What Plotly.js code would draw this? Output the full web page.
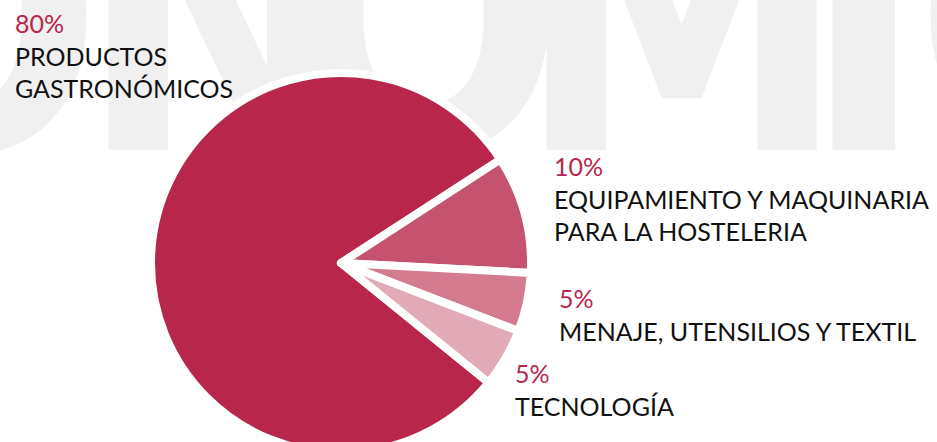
<!DOCTYPE html>
<html>
<head>
<meta charset="utf-8">
<script src="https://cdn.plot.ly/plotly-3.0.1.min.js"></script>
<style>
  html, body { margin: 0; padding: 0; background: #ffffff; overflow: hidden; width: 937px; height: 442px; }
  #bg { position: absolute; left: 0; top: 0; z-index: 0; }
  #chart { position: absolute; left: 0; top: 0; width: 937px; height: 460px; z-index: 1; }
</style>
</head>
<body>
<svg id="bg" width="937" height="442">
  <text id="wm" y="150" fill="#f0f0f0"
        style="font-family: 'Liberation Sans Narrow', 'DejaVu Sans Condensed', sans-serif; font-weight: 700; font-size: 370px;"></text>
</svg>
<div id="chart"></div>
<script>
// ---- data ----
const categories = ["PRODUCTOS<br>GASTRONÓMICOS", "EQUIPAMIENTO Y MAQUINARIA<br>PARA LA HOSTELERIA", "MENAJE, UTENSILIOS Y TEXTIL", "TECNOLOGÍA"];
const shares = [80, 10, 5, 5];
const sliceColors = ["#b8264b", "#c5536f", "#d57b8f", "#e2a9b6"];

// ---- decorative watermark (real text) ----
const watermarkText = "GASTRONÓMICOS";
const wmX = [-1300, -1100, -900, -700, -420, -180, 78, 282, 516, 802, 914, 1100, 1300];
const wm = document.getElementById('wm');
wm.setAttribute('x', wmX.join(' '));
wm.textContent = watermarkText;

// ---- label placement (paper coords of a 937x460 canvas) ----
const H = 460, W = 937;
const labelPos = [
  {x: 13, y: 6},
  {x: 552, y: 149},
  {x: 557, y: 281},
  {x: 513, y: 356}
];

const annotations = categories.map((c, i) => ({
  xref: 'paper', yref: 'paper',
  x: labelPos[i].x / W, y: 1 - labelPos[i].y / H,
  xanchor: 'left', yanchor: 'top', align: 'left',
  showarrow: false,
  text: '<span style="color:#b8264b">' + shares[i] + '%</span><br>' + c,
  font: {family: 'Lato, "Open Sans", sans-serif', size: 25, color: '#111111'}
}));

const trace = {
  type: 'pie',
  labels: categories,
  values: shares,
  sort: false,
  direction: 'clockwise',
  rotation: 129,
  textinfo: 'none',
  hoverinfo: 'none',
  marker: {colors: sliceColors, line: {color: '#ffffff', width: 8}},
  domain: {x: [151 / W, 531 / W], y: [(H - 263 - 190) / H, (H - 263 + 190) / H]}
};

Plotly.newPlot('chart', [trace], {
  width: W, height: H,
  margin: {l: 0, r: 0, t: 0, b: 0},
  paper_bgcolor: 'rgba(0,0,0,0)',
  plot_bgcolor: 'rgba(0,0,0,0)',
  showlegend: false,
  annotations: annotations
}, {displayModeBar: false, staticPlot: true});
</script>
</body>
</html>
